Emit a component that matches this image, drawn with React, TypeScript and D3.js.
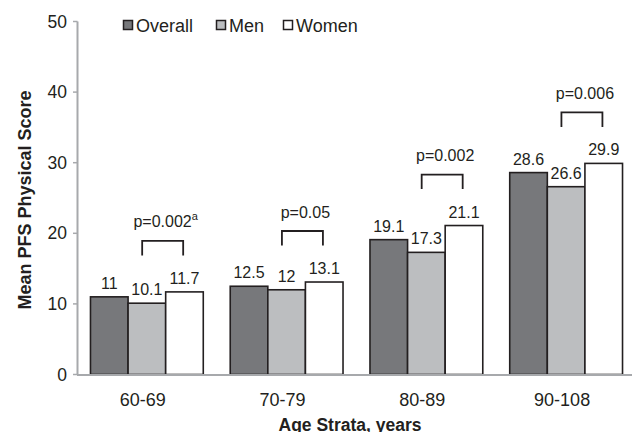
import React from "react";
import * as d3 from "d3";

const categories = ["60-69", "70-79", "80-89", "90-108"];
const seriesNames = ["Overall", "Men", "Women"];
const overall = [11, 12.5, 19.1, 28.6];
const men = [10.1, 12, 17.3, 26.6];
const women = [11.7, 13.1, 21.1, 29.9];
const pLabels = ["p=0.002", "p=0.05", "p=0.002", "p=0.006"];
const pSuperscripts = ["a", "", "", ""];
const yTicks = [0, 10, 20, 30, 40, 50];

const W = 632;
const H = 432;
const colors = ["#77787b", "#bcbec0", "#ffffff"];
const textColor = "#231f20";
const axisColor = "#a7a9ac";
const FONT = "'Liberation Sans', Arial, sans-serif";

export default function App() {
  const values = [overall, men, women];
  const y = d3.scaleLinear().domain([0, 50]).range([374.5, 21.5]);
  const x0 = d3
    .scaleBand<string>()
    .domain(categories)
    .range([77, 636])
    .paddingInner(27 / 140)
    .paddingOuter(13.5 / 140);
  const x1 = d3
    .scaleBand<string>()
    .domain(seriesNames)
    .range([0, x0.bandwidth()])
    .padding(0);

  return (
    <svg
      width={W}
      height={H}
      style={{ position: "absolute", left: 0, top: 0, display: "block", background: "#fff" }}
      fontFamily={FONT}
    >
      <rect x={0} y={0} width={W} height={H} fill="#fff" />
      {/* y axis */}
      <line x1={77.5} x2={77.5} y1={y(50)} y2={y(0)} stroke={axisColor} strokeWidth={2} />
      {yTicks.map((t) => (
        <g key={t}>
          <line x1={73} x2={77.5} y1={y(t)} y2={y(t)} stroke={axisColor} strokeWidth={1.5} />
          <text
            x={67}
            y={y(t)}
            dy="0.35em"
            textAnchor="end"
            fontSize={17.5}
            fill={textColor}
          >
            {t}
          </text>
        </g>
      ))}
      {/* bars */}
      {categories.map((c, ci) => (
        <g key={c} transform={`translate(${x0(c)},0)`}>
          {seriesNames.map((s, si) => {
            const v = values[si][ci];
            return (
              <g key={s}>
                <rect
                  x={x1(s)}
                  y={y(v)}
                  width={x1.bandwidth()}
                  height={y(0) - y(v)}
                  fill={colors[si]}
                  stroke="#231f20"
                  strokeWidth={1.6}
                />
                <text
                  x={(x1(s) as number) + x1.bandwidth() / 2}
                  y={y(v) - 8}
                  textAnchor="middle"
                  fontSize={16}
                  fill={textColor}
                >
                  {v}
                </text>
              </g>
            );
          })}
        </g>
      ))}
      {/* x axis */}
      <line x1={77} x2={W} y1={y(0) + 0.5} y2={y(0) + 0.5} stroke={axisColor} strokeWidth={2} />
      {categories.map((c) => (
        <text
          key={c}
          x={(x0(c) as number) + x0.bandwidth() / 2 - 4}
          y={406}
          textAnchor="middle"
          fontSize={18}
          fill={textColor}
        >
          {c}
        </text>
      ))}
      {/* p-value brackets */}
      {categories.map((c, ci) => {
        const boundary = (x0(c) as number) + (x1("Women") as number);
        const bx = boundary - 3;
        const legBottom = y(women[ci]) - 36.5;
        const top = legBottom - 14.5;
        return (
          <g key={c}>
            <path
              d={`M${bx - 20.5},${legBottom}V${top}H${bx + 20.5}V${legBottom}`}
              fill="none"
              stroke="#231f20"
              strokeWidth={1.8}
            />
            <text
              x={boundary}
              y={top - 13.5}
              textAnchor="middle"
              fontSize={16}
              fill={textColor}
            >
              {pLabels[ci]}
              {pSuperscripts[ci] ? (
                <tspan fontSize={11} dy={-7}>
                  {pSuperscripts[ci]}
                </tspan>
              ) : null}
            </text>
          </g>
        );
      })}
      {/* legend */}
      {seriesNames.map((s, si) => {
        const lx = [123, 216, 283][si];
        return (
          <g key={s}>
            <rect
              x={lx + 0.5}
              y={20.5}
              width={9}
              height={9}
              fill={colors[si]}
              stroke="#231f20"
              strokeWidth={1.5}
            />
            <text x={lx + 13} y={31.5} fontSize={18} fill={textColor}>
              {s}
            </text>
          </g>
        );
      })}
      {/* axis titles */}
      <text
        transform={`translate(31,200) rotate(-90)`}
        textAnchor="middle"
        fontSize={18}
        fontWeight="bold"
        fill={textColor}
      >
        Mean PFS Physical Score
      </text>
      <text x={350} y={431} textAnchor="middle" fontSize={17.5} fontWeight="bold" fill={textColor}>
        Age Strata, years
      </text>
    </svg>
  );
}
